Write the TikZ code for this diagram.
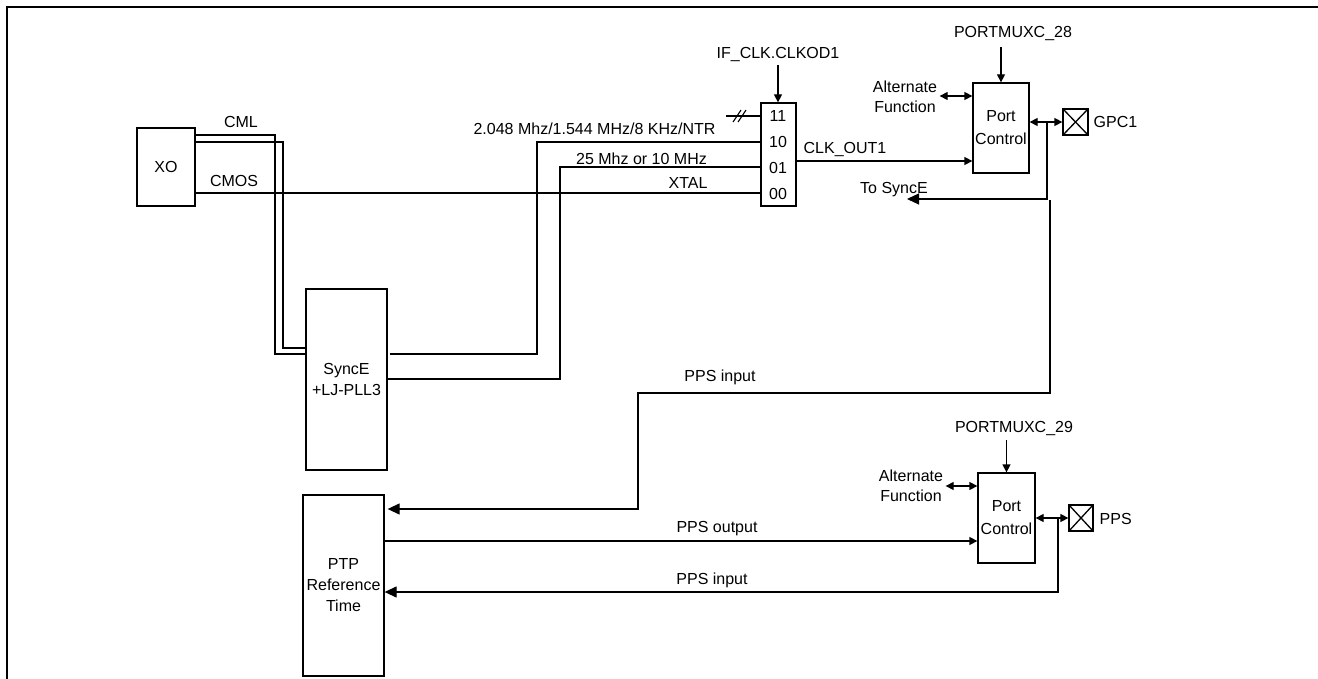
\documentclass[tikz,border=0pt]{standalone}
\usepackage{fontspec}
\setmainfont{Liberation Sans}
\usetikzlibrary{arrows.meta}

\begin{document}
\begin{tikzpicture}[x=1pt,y=-1pt,line width=1.3pt,
  every node/.style={font=\fontsize{16}{21}\selectfont,inner sep=0pt},
  blk/.style={draw,align=center},
  lbl/.style={anchor=base},
  pad/.style={draw,minimum width=24pt,minimum height=26pt,
    path picture={\draw (path picture bounding box.north west)--(path picture bounding box.south east)
      (path picture bounding box.south west)--(path picture bounding box.north east);}},
  arr/.style={-{Triangle[length=8pt,width=8pt]}},
  bigarr/.style={-{Triangle[length=12pt,width=11pt]}},
  dbl/.style={{Triangle[length=8pt,width=8pt]}-{Triangle[length=8pt,width=8pt]}}]
  % Clock output selection: XO and SyncE PLL into the CLKOD mux, port control pins to GPC1 and PPS.
  \useasboundingbox (0,0) rectangle (1318,679);
  \draw (7,679) -- (7,7) -- (1318,7);

  \node[blk,minimum width=58pt,minimum height=78pt] (XO) at (166,167) {XO};
  \node[blk,minimum width=81pt,minimum height=181pt] (synce) at (346.5,379.5) {SyncE\\+LJ-PLL3};
  \node[blk,minimum width=81pt,minimum height=181pt] (ptp) at (343.5,585.5) {PTP\\Reference\\Time};
  \node[blk,minimum width=35pt,minimum height=103pt] (mux) at (778.5,154.5) {};
  \node[blk,minimum width=56pt,minimum height=90pt,font=\fontsize{16}{23}\selectfont] (pc28) at (1001,128) {Port\\Control};
  \node[blk,minimum width=57pt,minimum height=90pt,font=\fontsize{16}{23}\selectfont] (pc29) at (1006.5,518) {Port\\Control};
  \node[pad,minimum width=25pt] (gpc) at (1075.5,122) {};
  \node[pad] (ppspad) at (1081,518) {};

  \foreach \bits [count=\i from 0] in {11,10,01,00}
    \node[lbl] (sel\bits) at (778,{122+25.67*\i}) {\bits};

  \node[lbl] (cml) at (241,128) {CML};
  \node[lbl] (cmos) at (234,187) {CMOS};
  \node[lbl] (clkod) at (778,59) {IF\_CLK.CLKOD1};
  \node[lbl] (f2048) at (594.5,135) {2.048 Mhz/1.544 MHz/8 KHz/NTR};
  \node[lbl] (f25) at (641.5,165) {25 Mhz or 10 MHz};
  \node[lbl] (xtal) at (688,189) {XTAL};
  \node[lbl,anchor=base west] (clkout) at (803,154) {CLK\_OUT1};
  \node[lbl] (pm28) at (1013,38) {PORTMUXC\_28};
  \node[align=center,font=\fontsize{16}{20}\selectfont] (alt28) at (905,96.5) {Alternate\\Function};
  \node[lbl,anchor=base west] (gpclbl) at (1093,128) {GPC1};
  \node[lbl] (tosync) at (894,194) {To SyncE};
  \node[lbl] (ppsin1) at (720,381) {PPS input};
  \node[lbl] (pm29) at (1014,432) {PORTMUXC\_29};
  \node[align=center,font=\fontsize{16}{20}\selectfont] (alt29) at (911,485.5) {Alternate\\Function};
  \node[lbl,anchor=base west] (ppslbl) at (1099,524) {PPS};
  \node[lbl] (ppsout) at (717,532) {PPS output};
  \node[lbl] (ppsin2) at (712,584) {PPS input};

  % XO and SyncE into the mux
  \draw ([yshift=32pt]XO.east) -- (275,135) -- (275,354) -- (synce.west |- 0,354);
  \draw ([yshift=25pt]XO.east) -- (283,142) -- (283,348) -- (synce.west |- 0,348);
  \draw ([yshift=-26pt]XO.east) -- (mux.west |- 0,193);
  \draw ([xshift=2pt]synce.east |- 0,354) -- (537,354) -- (537,142) -- (mux.west |- 0,142);
  \draw (synce.east |- 0,379) -- (560,379) -- (560,167) -- (mux.west |- 0,167);
  \coordinate (in11) at (726,116);
  \draw (in11) -- (mux.west |- in11);
  \draw[line width=1.1pt] (733,122) -- (741,110) (738,122) -- (746,110);
  \draw[arr,shorten <=2pt] (clkod.south) -- (clkod.south |- mux.north);

  % port control for GPC1
  \draw[arr] (mux.east |- 0,161) -- (pc28.west |- 0,161);
  \draw[arr,shorten <=5pt] (pm28.south -| pc28.north) -- (pc28.north);
  \draw[dbl,shorten <=2pt] (alt28.east |- 0,96) -- (pc28.west |- 0,96);
  \draw[dbl] (pc28.east |- gpc.west) -- (gpc.west);
  \coordinate (tap28) at (1047,122);
  \coordinate (tosynce) at (907,199);
  \draw[bigarr] (tap28) -- (tap28 |- tosynce) -- (tosynce);
  \coordinate (ppsfeed) at (1050,200);
  \draw[bigarr] (ppsfeed) -- (1050,393) -- (638,393) -- (638,509) -- ([xshift=3pt]ptp.east |- 0,509);

  % port control for PPS
  \draw[arr,shorten <=4pt] (pm29.south -| pc29.north) -- (pc29.north);
  \draw[dbl,shorten <=2pt] (alt29.east |- 0,486) -- (pc29.west |- 0,486);
  \draw[dbl] (pc29.east |- ppspad.west) -- (ppspad.west);
  \draw[arr] (ptp.east |- 0,541) -- (pc29.west |- 0,541);
  \coordinate (tap29) at (1058,518);
  \draw[bigarr] (tap29) -- (tap29 |- 0,592) -- (ptp.east |- 0,592);
\end{tikzpicture}
\end{document}
